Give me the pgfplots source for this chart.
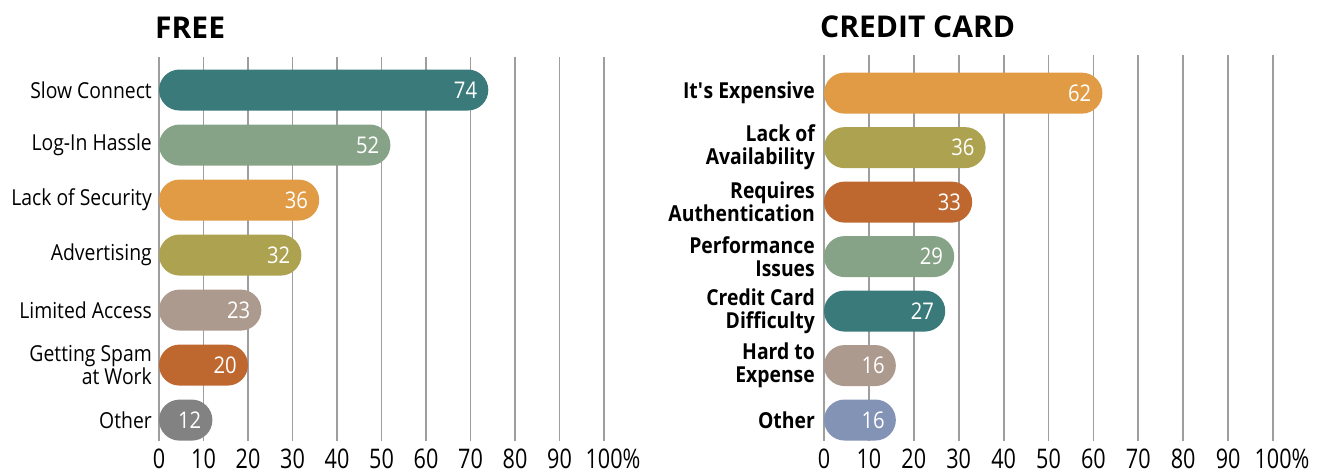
\documentclass[border=0pt]{standalone}
\usepackage{pgfplots}
\pgfplotsset{compat=1.18}
\usepackage{fontspec}
\setmainfont{Open Sans}[FakeStretch=0.88]
\newfontfamily\titlefont{Open Sans}
\newfontfamily\tickfont{Open Sans}[FakeStretch=0.8]
\definecolor{cteal}{RGB}{58,122,122}
\definecolor{csage}{RGB}{135,163,135}
\definecolor{corange}{RGB}{225,155,69}
\definecolor{colive}{RGB}{173,162,80}
\definecolor{ctaupe}{RGB}{173,154,142}
\definecolor{crust}{RGB}{190,104,48}
\definecolor{cgray}{RGB}{130,130,130}
\definecolor{cblue}{RGB}{131,147,181}
\definecolor{cgrid}{RGB}{158,158,158}
\pgfplotsset{
  pillaxis/.style={
    anchor=south west, scale only axis,
    xmin=0, xmax=100, y dir=reverse,
    xtick={0,10,...,100}, xticklabels={0,10,20,30,40,50,60,70,80,90,\kern18pt100\%},
    ytick={0,...,6},
    xmajorgrids, grid style={draw=cgrid, line width=1.8pt},
    axis line style={draw=none}, major tick length=0pt,
    /pgf/number format/assume math mode=true,
    xticklabel style={font=\tickfont\fontsize{27}{27}\selectfont, inner sep=0pt, anchor=north, yshift=-8pt},
    yticklabel style={align=right, inner sep=0pt},
    xbar, bar width=41pt, bar shift=0pt,
    every axis plot/.append style={draw=none, rounded corners=20.5pt},
    point meta=x,
    nodes near coords,
    nodes near coords style={anchor=east, text=white, inner sep=0pt, xshift=-11pt, font=\fontsize{23}{23}\selectfont},
    clip=false,
  }
}
\begin{document}
\begin{tikzpicture}
\useasboundingbox (0,0) rectangle (1335pt,-475pt);
\node[anchor=base west, inner sep=0pt, font=\titlefont\bfseries\fontsize{30}{30}\selectfont] at (155pt,-38pt) {FREE};
\node[anchor=base west, inner sep=0pt, font=\titlefont\bfseries\fontsize{30}{30}\selectfont] at (820pt,-37pt) {CREDIT CARD};
\begin{axis}[pillaxis,
  at={(159pt,-441pt)}, width=445pt, height=384pt,
  ymin=-0.6, ymax=6.38,
  yticklabels={Slow Connect, Log-In Hassle, Lack of Security, Advertising, Limited Access, {Getting Spam\\at Work}, Other},
  yticklabel style={font=\fontsize{22}{23}\selectfont, xshift=-7pt},
]
\addplot[fill=cteal] coordinates {(74,0)};
\addplot[fill=csage] coordinates {(52,1)};
\addplot[fill=corange] coordinates {(36,2)};
\addplot[fill=colive] coordinates {(32,3)};
\addplot[fill=ctaupe] coordinates {(23,4)};
\addplot[fill=crust] coordinates {(20,5)};
\addplot[fill=cgray] coordinates {(12,6)};
\end{axis}
\begin{axis}[pillaxis,
  at={(824pt,-441pt)}, width=449pt, height=386pt,
  ymin=-0.70, ymax=6.385,
  yticklabels={It\textquotesingle s Expensive, {Lack of\\Availability}, {Requires\\Authentication}, {Performance\\Issues}, {Credit Card\\Difficulty}, {Hard to\\Expense}, Other},
  yticklabel style={font=\bfseries\fontsize{22}{23}\selectfont, xshift=-9pt},
]
\addplot[fill=corange] coordinates {(62,0)};
\addplot[fill=colive] coordinates {(36,1)};
\addplot[fill=crust] coordinates {(33,2)};
\addplot[fill=csage] coordinates {(29,3)};
\addplot[fill=cteal] coordinates {(27,4)};
\addplot[fill=ctaupe] coordinates {(16,5)};
\addplot[fill=cblue] coordinates {(16,6)};
\end{axis}
\end{tikzpicture}
\end{document}
